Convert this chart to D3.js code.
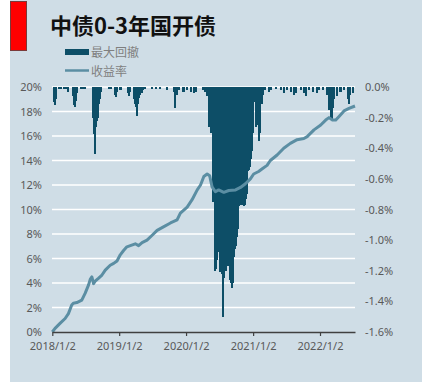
<!DOCTYPE html>
<html>
<head>
<meta charset="utf-8">
<script src="https://cdn.jsdelivr.net/npm/d3@7/dist/d3.min.js"></script>
<style>
  body { margin: 0; background: #fff; }
  text { font-family: "Noto Sans", "Noto Sans CJK SC", sans-serif; }
  .tick-label { fill: #595959; font-size: 11px; }
</style>
</head>
<body>
<div id="chart"></div>
<script>
// ---- data ----
const chartTitle = "中债0-3年国开债";
const seriesNames = ["最大回撤", "收益率"];
const leftTicks = [0, 2, 4, 6, 8, 10, 12, 14, 16, 18, 20];
const rightTicks = [0, -0.2, -0.4, -0.6, -0.8, -1.0, -1.2, -1.4, -1.6];
const xTickDates = ["2018-01-02", "2019-01-02", "2020-01-02", "2021-01-02", "2022-01-02"];
const xTickLabels = ["2018/1/2", "2019/1/2", "2020/1/2", "2021/1/2", "2022/1/2"];

// max drawdown (%), only the non-zero days
const ddDates = [
  "2018-01-07","2018-01-13","2018-01-18","2018-02-04","2018-02-15","2018-03-03","2018-03-14","2018-03-24",
  "2018-04-21","2018-04-26","2018-05-01","2018-05-07","2018-05-12","2018-06-03","2018-06-14","2018-06-25",
  "2018-08-08","2018-08-13","2018-08-19","2018-08-24","2018-08-30","2018-09-04","2018-09-10","2018-09-15","2018-09-21",
  "2018-11-03","2018-11-14","2018-12-06","2018-12-11","2018-12-17",
  "2019-01-06","2019-02-18","2019-02-24","2019-03-01","2019-03-23","2019-03-28","2019-04-03","2019-04-08",
  "2019-04-14","2019-04-19","2019-04-25","2019-05-05","2019-05-11","2019-05-22","2019-06-29","2019-07-21",
  "2019-08-12","2019-09-19","2019-10-28","2019-11-02","2019-11-08","2019-11-19","2019-12-16",
  "2020-01-02","2020-01-24","2020-02-09","2020-02-20","2020-04-03","2020-04-14","2020-04-20",
  "2020-04-25","2020-05-01","2020-05-06","2020-05-12","2020-05-17","2020-05-23","2020-05-28","2020-06-03",
  "2020-06-08","2020-06-14","2020-06-19","2020-06-25","2020-06-30","2020-07-06","2020-07-11","2020-07-17",
  "2020-07-22","2020-07-27","2020-08-02","2020-08-07","2020-08-13","2020-08-18","2020-08-24","2020-08-29",
  "2020-09-04","2020-09-09","2020-09-15","2020-09-20","2020-09-26","2020-10-01","2020-10-07","2020-10-12",
  "2020-10-18","2020-10-23","2020-10-29","2020-11-03","2020-11-08","2020-11-14","2020-11-19","2020-11-25",
  "2020-11-30","2020-12-06","2020-12-11","2020-12-17","2020-12-22","2020-12-28",
  "2021-01-10","2021-01-16","2021-01-21","2021-01-27","2021-02-01","2021-02-07","2021-02-12","2021-02-18","2021-02-23",
  "2021-03-06","2021-03-28","2021-04-08","2021-05-05","2021-06-01","2021-06-18","2021-07-04","2021-07-27",
  "2021-08-12","2021-08-23","2021-09-19","2021-10-05","2021-10-16","2021-11-02","2021-11-24","2021-12-15","2021-12-26",
  "2022-01-13","2022-02-04","2022-02-15","2022-02-20","2022-02-26","2022-03-03","2022-03-09","2022-03-14",
  "2022-03-31","2022-04-21","2022-05-08","2022-05-30","2022-06-04","2022-06-10","2022-06-26"
];
const ddValues = [
  -0.10,-0.12,-0.08,-0.01,-0.015,-0.01,-0.01,-0.03,
  -0.06,-0.12,-0.13,-0.09,-0.04,-0.01,-0.015,-0.01,
  -0.20,-0.31,-0.44,-0.26,-0.22,-0.20,-0.11,-0.08,-0.03,
  -0.01,-0.015,-0.05,-0.065,-0.03,
  -0.02,-0.04,-0.06,-0.03,-0.08,-0.11,-0.13,-0.19,
  -0.11,-0.07,-0.05,-0.04,-0.02,-0.01,-0.01,-0.01,
  -0.01,-0.02,-0.03,-0.14,-0.05,-0.02,-0.03,
  -0.02,-0.03,-0.04,-0.03,-0.02,-0.03,-0.04,
  -0.06,-0.22,-0.26,-0.25,-0.30,-0.46,-0.75,-1.20,
  -1.19,-1.13,-1.06,-1.08,-1.21,-1.10,-1.22,-1.50,
  -1.25,-1.18,-1.20,-1.17,-1.16,-1.17,-1.26,-1.28,
  -1.31,-1.28,-1.11,-1.06,-1.04,-0.98,-0.93,-0.78,
  -0.77,-0.76,-0.77,-0.76,-0.78,-0.77,-0.73,-0.70,
  -0.55,-0.54,-0.52,-0.47,-0.42,-0.30,
  -0.10,-0.26,-0.25,-0.20,-0.35,-0.30,-0.10,-0.11,-0.05,
  -0.02,-0.03,-0.02,-0.01,-0.02,-0.04,-0.02,-0.03,
  -0.05,-0.04,-0.02,-0.04,-0.06,-0.02,-0.03,-0.04,-0.02,
  -0.02,-0.05,-0.10,-0.15,-0.18,-0.21,-0.14,-0.08,
  -0.06,-0.03,-0.02,-0.08,-0.11,-0.05,-0.04
];

// cumulative return (%)
const retDates = [
  "2018-01-02","2018-01-17","2018-02-13","2018-03-13","2018-03-31","2018-04-18","2018-04-27","2018-05-16",
  "2018-06-12","2018-06-30","2018-07-19","2018-07-28","2018-08-06","2018-08-15","2018-08-24","2018-09-12",
  "2018-09-30","2018-10-18","2018-11-14","2018-12-03","2018-12-21","2019-01-08","2019-01-26","2019-02-13",
  "2019-03-04","2019-03-31","2019-04-18","2019-05-07","2019-06-03","2019-07-01","2019-07-28","2019-09-03",
  "2019-10-09","2019-11-14","2019-12-02","2020-01-08","2020-02-04","2020-03-03","2020-03-21","2020-04-08",
  "2020-04-26","2020-05-10","2020-05-23","2020-06-10","2020-06-28","2020-07-26","2020-08-22","2020-09-28",
  "2020-10-25","2020-11-21","2020-12-18","2021-01-05","2021-02-01","2021-02-19","2021-03-19","2021-04-06",
  "2021-05-13","2021-06-18","2021-07-24","2021-08-30","2021-10-06","2021-10-24","2021-11-30","2022-01-06",
  "2022-02-02","2022-02-20","2022-03-11","2022-03-29","2022-04-16","2022-05-13","2022-06-09","2022-07-12"
];
const retValues = [
  0.0,0.3,0.7,1.1,1.5,2.2,2.35,2.4,
  2.6,3.15,3.85,4.3,4.5,3.95,4.15,4.4,
  4.65,5.05,5.45,5.6,5.8,6.3,6.65,6.95,
  7.05,7.2,7.05,7.3,7.5,7.9,8.3,8.6,
  8.9,9.15,9.7,10.2,10.8,11.6,12.0,12.7,
  12.9,12.75,11.85,11.45,11.6,11.4,11.55,11.6,
  11.8,12.1,12.5,12.9,13.1,13.3,13.6,14.0,
  14.45,15.0,15.4,15.7,15.8,15.95,16.5,16.9,
  17.3,17.5,17.3,17.3,17.6,18.05,18.25,18.45
];

// ---- drawing ----
const W = 434, H = 383;
const barColor = "#0d4e67";
const lineColor = "#5b8ea3";
const bgColor = "#cfdde6";
const parse = d3.timeParse("%Y-%m-%d");

const svg = d3.select("#chart").append("svg")
  .attr("width", W).attr("height", H);

svg.append("rect")
  .attr("x", 10).attr("y", 0).attr("width", 412).attr("height", 382)
  .attr("fill", bgColor);

svg.append("rect")
  .attr("x", 10.5).attr("y", 1.5).attr("width", 16).attr("height", 49)
  .attr("fill", "#ff0000").attr("stroke", "#7a3a3a").attr("stroke-width", 1);

svg.append("text")
  .attr("x", 50).attr("y", 34)
  .attr("font-size", "22px").attr("font-weight", "bold")
  .attr("fill", "#111")
  .style("font-family", "'Noto Sans CJK SC', sans-serif")
  .text(chartTitle);

// legend
const legend = svg.append("g");
legend.append("rect").attr("x", 65).attr("y", 49).attr("width", 24).attr("height", 6).attr("fill", barColor);
legend.append("text").attr("x", 91).attr("y", 57).attr("font-size", "12px").attr("fill", "#7f7f7f")
  .style("font-family", "'Noto Sans CJK SC', sans-serif").text(seriesNames[0]);
legend.append("line").attr("x1", 65).attr("x2", 89).attr("y1", 70.5).attr("y2", 70.5)
  .attr("stroke", lineColor).attr("stroke-width", 2.5);
legend.append("text").attr("x", 91).attr("y", 76).attr("font-size", "12px").attr("fill", "#7f7f7f")
  .style("font-family", "'Noto Sans CJK SC', sans-serif").text(seriesNames[1]);

// scales
const x = d3.scaleTime()
  .domain([parse("2018-01-02"), parse("2022-07-12")])
  .range([52.3, 355]);
const yL = d3.scaleLinear().domain([0, 20]).range([332, 87]);
const yR = d3.scaleLinear().domain([-1.6, 0]).range([332, 87]);

// grid
svg.append("g")
  .selectAll("line")
  .data(leftTicks.filter(d => d > 0))
  .join("line")
  .attr("x1", 52).attr("x2", 355)
  .attr("y1", d => yL(d)).attr("y2", d => yL(d))
  .attr("stroke", "#ffffff").attr("stroke-width", 1.5);

// drawdown bars, snapped to whole pixels so neighbouring days join up
const dd = ddDates.map((d, i) => ({ date: parse(d), v: ddValues[i] }));
svg.append("g")
  .attr("shape-rendering", "crispEdges")
  .selectAll("rect")
  .data(dd)
  .join("rect")
  .attr("x", d => Math.floor(x(d.date)))
  .attr("width", d => Math.max(1, Math.ceil(x(d3.timeDay.offset(d.date, 6))) - Math.floor(x(d.date))))
  .attr("y", yR(0))
  .attr("height", d => yR(d.v) - yR(0))
  .attr("fill", barColor);

// return line
const ret = retDates.map((d, i) => ({ date: parse(d), v: retValues[i] }));
svg.append("path")
  .datum(ret)
  .attr("fill", "none")
  .attr("stroke", lineColor)
  .attr("stroke-width", 3)
  .attr("stroke-linejoin", "round")
  .attr("d", d3.line().x(d => x(d.date)).y(d => yL(d.v)));

// x axis
const xAxis = svg.append("g")
  .attr("transform", "translate(0,332)")
  .call(d3.axisBottom(x)
    .tickValues(xTickDates.map(parse))
    .tickFormat((d, i) => xTickLabels[i])
    .tickSize(4)
    .tickSizeOuter(0));
xAxis.select(".domain").attr("stroke", "#404040").attr("stroke-width", 1.5);
xAxis.selectAll(".tick line").attr("stroke", "#404040").attr("stroke-width", 1.2);
xAxis.selectAll(".tick text").attr("class", "tick-label").attr("dy", "1.0em")
  .style("font-family", "'Noto Sans', sans-serif");

// left axis
const leftAxis = svg.append("g")
  .attr("transform", "translate(44,0)")
  .call(d3.axisLeft(yL).tickValues(leftTicks).tickFormat(d => d + "%").tickSize(0));
leftAxis.select(".domain").remove();
leftAxis.selectAll(".tick text").attr("class", "tick-label").attr("x", -2)
  .style("font-family", "'Noto Sans', sans-serif");

// right axis
const rightAxis = svg.append("g")
  .attr("transform", "translate(363,0)")
  .call(d3.axisRight(yR).tickValues(rightTicks).tickFormat(d => d.toFixed(1) + "%").tickSize(0));
rightAxis.select(".domain").remove();
rightAxis.selectAll(".tick text").attr("class", "tick-label").attr("x", 2)
  .style("font-family", "'Noto Sans', sans-serif");
</script>
</body>
</html>
